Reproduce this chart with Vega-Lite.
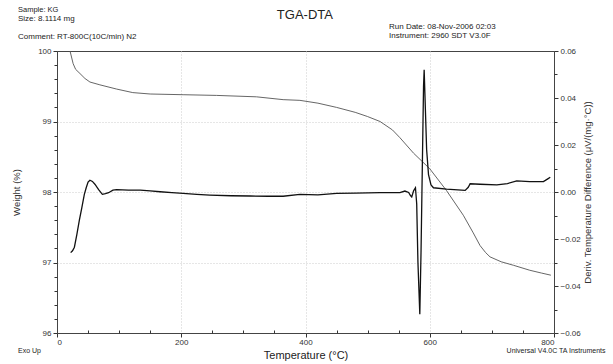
{
  "$schema": "https://vega.github.io/schema/vega-lite/v6.json",
  "width": 497,
  "height": 282,
  "autosize": {"type": "none"},
  "padding": {"left": 57, "top": 51, "right": 59, "bottom": 31},
  "background": "white",
  "config": {
    "font": "Liberation Sans",
    "view": {"stroke": "#444", "strokeWidth": 1}
  },
  "datasets": {
    "tga": [
      {"T": 21, "w": 100.0}, {"T": 26, "w": 99.82}, {"T": 30, "w": 99.74}, {"T": 37, "w": 99.68},
      {"T": 45, "w": 99.61}, {"T": 53, "w": 99.56}, {"T": 69, "w": 99.52}, {"T": 96, "w": 99.46},
      {"T": 122, "w": 99.41}, {"T": 150, "w": 99.39}, {"T": 203, "w": 99.38}, {"T": 257, "w": 99.37},
      {"T": 321, "w": 99.35}, {"T": 364, "w": 99.31}, {"T": 391, "w": 99.30}, {"T": 420, "w": 99.26},
      {"T": 450, "w": 99.20}, {"T": 480, "w": 99.13}, {"T": 500, "w": 99.07}, {"T": 520, "w": 99.0},
      {"T": 540, "w": 98.88}, {"T": 552, "w": 98.77}, {"T": 574, "w": 98.55}, {"T": 600, "w": 98.33},
      {"T": 627, "w": 98.02}, {"T": 654, "w": 97.67}, {"T": 670, "w": 97.42}, {"T": 681, "w": 97.24},
      {"T": 690, "w": 97.14}, {"T": 697, "w": 97.08}, {"T": 715, "w": 97.01}, {"T": 735, "w": 96.96},
      {"T": 761, "w": 96.89}, {"T": 780, "w": 96.85}, {"T": 795, "w": 96.82}
    ],
    "dta": [
      {"T": 22, "v": -0.0258}, {"T": 25, "v": -0.025}, {"T": 28, "v": -0.0235}, {"T": 32, "v": -0.018},
      {"T": 36, "v": -0.012}, {"T": 40, "v": -0.0067}, {"T": 44, "v": -0.001}, {"T": 47, "v": 0.0018},
      {"T": 50, "v": 0.0042}, {"T": 53, "v": 0.005}, {"T": 57, "v": 0.0045}, {"T": 61, "v": 0.0033},
      {"T": 67, "v": 0.001}, {"T": 73, "v": -0.001}, {"T": 78, "v": -0.0007}, {"T": 83, "v": -0.0003},
      {"T": 90, "v": 0.0008}, {"T": 96, "v": 0.001}, {"T": 115, "v": 0.0008}, {"T": 134, "v": 0.0008},
      {"T": 150, "v": 0.0005}, {"T": 166, "v": 0.0001}, {"T": 185, "v": -0.0003}, {"T": 203, "v": -0.0006},
      {"T": 225, "v": -0.001}, {"T": 246, "v": -0.0013}, {"T": 280, "v": -0.0016}, {"T": 311, "v": -0.0017},
      {"T": 340, "v": -0.0018}, {"T": 364, "v": -0.0018}, {"T": 391, "v": -0.001}, {"T": 420, "v": -0.0012},
      {"T": 450, "v": -0.0006}, {"T": 480, "v": -0.0005}, {"T": 520, "v": -0.0003}, {"T": 552, "v": -0.0003},
      {"T": 560, "v": 0.0004}, {"T": 566, "v": -0.0002}, {"T": 569, "v": -0.0015}, {"T": 571, "v": -0.0021},
      {"T": 574, "v": 0.0005}, {"T": 577, "v": 0.0018}, {"T": 579, "v": -0.005}, {"T": 581, "v": -0.03},
      {"T": 584, "v": -0.052}, {"T": 586, "v": -0.025}, {"T": 588, "v": 0.01}, {"T": 590, "v": 0.045},
      {"T": 591, "v": 0.052}, {"T": 593, "v": 0.035}, {"T": 595, "v": 0.018}, {"T": 598, "v": 0.0074},
      {"T": 602, "v": 0.003}, {"T": 606, "v": 0.0018}, {"T": 627, "v": 0.0012}, {"T": 657, "v": 0.0007},
      {"T": 662, "v": 0.002}, {"T": 665, "v": 0.0035}, {"T": 681, "v": 0.0033}, {"T": 708, "v": 0.003},
      {"T": 725, "v": 0.0036}, {"T": 740, "v": 0.0047}, {"T": 761, "v": 0.0044}, {"T": 783, "v": 0.0044},
      {"T": 790, "v": 0.0056}, {"T": 794, "v": 0.0063}
    ],
    "one": [{}]
  },
  "layer": [
    {
      "layer": [
        {
          "data": {"name": "tga"},
          "mark": {"type": "line", "color": "#555", "strokeWidth": 0.9},
          "encoding": {
            "x": {
              "field": "T", "type": "quantitative",
              "scale": {"domain": [0, 800]},
              "axis": {
                "orient": "bottom",
                "values": [0, 200, 400, 600, 800], "title": "Temperature (°C)",
                "titleFontSize": 11, "titleFontWeight": "normal", "titleColor": "#222", "titlePadding": 3,
                "labelFontSize": 8, "labelColor": "#333", "labelPadding": 1,
                "tickColor": "#333", "domainColor": "#444", "tickSize": 4,
                "grid": true, "gridColor": "#ccc", "gridDash": [1, 2],
                "gridOpacity": {"condition": {"test": "datum.value <= 0 || datum.value >= 800", "value": 0}, "value": 1}
              }
            },
            "y": {
              "field": "w", "type": "quantitative",
              "scale": {"domain": [96, 100]},
              "axis": {
                "orient": "left",
                "values": [96, 97, 98, 99, 100], "format": "d", "title": "Weight (%)",
                "titleFontSize": 9.5, "titleFontWeight": "normal", "titleColor": "#333", "titlePadding": 16,
                "labelFontSize": 8, "labelColor": "#333", "labelPadding": 2,
                "tickColor": "#333", "domainColor": "#444", "tickSize": 4,
                "grid": true, "gridColor": "#ccc", "gridDash": [1, 2],
                "gridOpacity": {"condition": {"test": "datum.value <= 96 || datum.value >= 100", "value": 0}, "value": 1}
              }
            }
          }
        },
        {
          "data": {"name": "one"},
          "mark": {"type": "text", "text": "TGA-DTA", "align": "center", "baseline": "middle", "fontSize": 13, "color": "#222"},
          "encoding": {"x": {"datum": 399}, "y": {"datum": 100.51}}
        },
        {
          "data": {"name": "one"},
          "mark": {"type": "text", "text": "Sample: KG", "align": "left", "baseline": "middle", "fontSize": 7.5, "color": "#222"},
          "encoding": {"x": {"datum": -62.8}, "y": {"datum": 100.58}}
        },
        {
          "data": {"name": "one"},
          "mark": {"type": "text", "text": "Size:  8.1114 mg", "align": "left", "baseline": "middle", "fontSize": 8, "color": "#222"},
          "encoding": {"x": {"datum": -62.8}, "y": {"datum": 100.45}}
        },
        {
          "data": {"name": "one"},
          "mark": {"type": "text", "text": "Comment: RT-800C(10C/min) N2", "align": "left", "baseline": "middle", "fontSize": 8, "color": "#222"},
          "encoding": {"x": {"datum": -62.8}, "y": {"datum": 100.2}}
        },
        {
          "data": {"name": "one"},
          "mark": {"type": "text", "text": "Run Date: 08-Nov-2006 02:03", "align": "left", "baseline": "middle", "fontSize": 8, "color": "#222"},
          "encoding": {"x": {"datum": 534.4}, "y": {"datum": 100.34}}
        },
        {
          "data": {"name": "one"},
          "mark": {"type": "text", "text": "Instrument: 2960 SDT V3.0F", "align": "left", "baseline": "middle", "fontSize": 8, "color": "#222"},
          "encoding": {"x": {"datum": 534.4}, "y": {"datum": 100.21}}
        },
        {
          "data": {"name": "one"},
          "mark": {"type": "text", "text": "Exo Up", "align": "left", "baseline": "middle", "fontSize": 7, "color": "#222"},
          "encoding": {"x": {"datum": -62.8}, "y": {"datum": 95.74}}
        },
        {
          "data": {"name": "one"},
          "mark": {"type": "text", "text": "Universal V4.0C TA Instruments", "align": "right", "baseline": "middle", "fontSize": 7, "color": "#222"},
          "encoding": {"x": {"datum": 883}, "y": {"datum": 95.74}}
        }
      ]
    },
    {
      "data": {"name": "dta"},
      "mark": {"type": "line", "color": "#111", "strokeWidth": 1.3},
      "encoding": {
        "x": {
          "field": "T", "type": "quantitative",
          "scale": {"domain": [0, 800]},
          "axis": {"orient": "bottom", "values": [50, 100, 150, 250, 300, 350, 450, 500, 550, 650, 700, 750], "labels": false, "title": null, "domain": false, "grid": false, "tickSize": -3, "tickColor": "#333"}
        },
        "y": {
          "field": "v", "type": "quantitative",
          "scale": {"domain": [-0.06, 0.06]},
          "axis": {
            "orient": "right",
            "values": [-0.06, -0.04, -0.02, 0, 0.02, 0.04, 0.06], "format": ".2f",
            "title": "Deriv. Temperature Difference (μV/(mg·°C))", "titleAngle": 270,
            "titleFontSize": 9.5, "titleFontWeight": "normal", "titleColor": "#333", "titlePadding": 12,
            "labelFontSize": 8, "labelColor": "#333", "labelPadding": 2,
            "tickColor": "#333", "domainColor": "#444", "tickSize": 4, "grid": false
          }
        }
      }
    },
    {
      "data": {"name": "one"},
      "mark": {"type": "text", "text": "", "opacity": 0},
      "encoding": {
        "x": {"datum": 0, "scale": {"domain": [0, 800]}, "axis": null},
        "y": {"datum": 98, "scale": {"domain": [96, 100]}, "axis": {"orient": "left", "values": [96.2, 96.4, 96.6, 96.8, 97.2, 97.4, 97.6, 97.8, 98.2, 98.4, 98.6, 98.8, 99.2, 99.4, 99.6, 99.8], "labels": false, "title": null, "domain": false, "grid": false, "tickSize": 3, "tickColor": "#333"}}
      }
    },
    {
      "data": {"name": "one"},
      "mark": {"type": "text", "text": "", "opacity": 0},
      "encoding": {
        "x": {"datum": 0, "scale": {"domain": [0, 800]}, "axis": null},
        "y": {"datum": 0, "scale": {"domain": [-0.06, 0.06]}, "axis": {"orient": "right", "values": [-0.05, -0.03, -0.01, 0.01, 0.03, 0.05], "labels": false, "title": null, "domain": false, "grid": false, "tickSize": 3, "tickColor": "#333"}}
      }
    }
  ],
  "resolve": {"scale": {"x": "independent", "y": "independent"}}
}
